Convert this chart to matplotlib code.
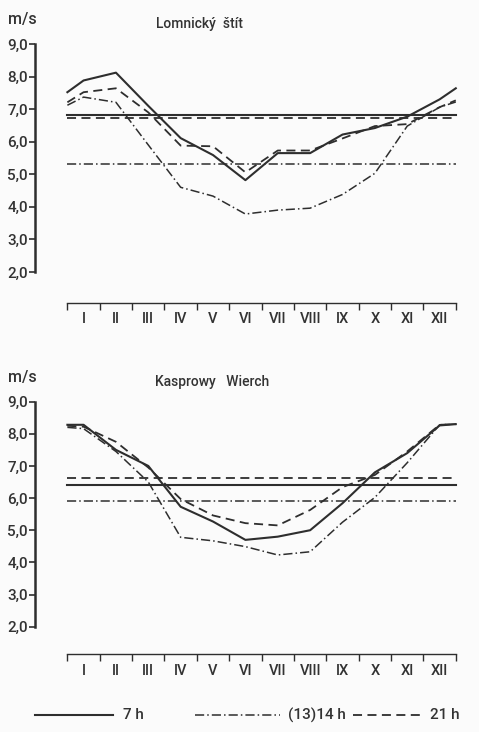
import numpy as np
import matplotlib
matplotlib.use("Agg")
import matplotlib.pyplot as plt
from matplotlib.lines import Line2D
from matplotlib.ticker import FixedLocator, FuncFormatter

plt.rcParams['font.family'] = ['Roboto', 'DejaVu Sans']
plt.rcParams['font.weight'] = 'medium'

# month labels, positions: 0 = left edge, 0.5..11.5 = months, 12 = right edge
months = ["I", "II", "III", "IV", "V", "VI", "VII", "VIII", "IX", "X", "XI", "XII"]
xpos = np.concatenate(([0.0], np.arange(12) + 0.5, [12.0]))

# Lomnický štít (m/s): edge, I..XII, edge
lom_7h = [7.52, 7.88, 8.12, 7.10, 6.11, 5.59, 4.82, 5.65, 5.65, 6.22, 6.42, 6.77, 7.30, 7.64]
lom_14h = [7.12, 7.37, 7.21, 5.90, 4.60, 4.33, 3.78, 3.90, 3.96, 4.38, 5.03, 6.48, 7.06, 7.22]
lom_21h = [7.21, 7.52, 7.64, 6.90, 5.88, 5.86, 5.06, 5.73, 5.73, 6.10, 6.48, 6.54, 7.06, 7.27]
lom_mean = {"7h": 6.82, "14h": 5.31, "21h": 6.72}

# Kasprowy Wierch (m/s)
kas_7h = [8.28, 8.28, 7.50, 7.00, 5.73, 5.27, 4.70, 4.80, 5.00, 5.84, 6.80, 7.40, 8.26, 8.30]
kas_14h = [8.20, 8.16, 7.45, 6.50, 4.78, 4.67, 4.49, 4.23, 4.33, 5.25, 6.02, 7.10, 8.28, 8.30]
kas_21h = [8.25, 8.22, 7.75, 6.95, 5.97, 5.46, 5.22, 5.15, 5.63, 6.34, 6.72, 7.45, 8.28, 8.30]
kas_mean = {"7h": 6.41, "14h": 5.91, "21h": 6.62}

ink = "#2e2e2e"
txt = "#333333"
styles = {
    "7h": dict(ls="-", lw=1.5),
    "14h": dict(ls=(0, (6, 2, 1, 2)), lw=1.1),
    "21h": dict(ls=(0, (5, 3)), lw=1.3),
}

fig = plt.figure(figsize=(4.79, 7.32), dpi=100, facecolor="#fbfbfb")


def panel(rect, series, means, title, title_x, offset_pt):
    ax = fig.add_axes(rect)
    ax.set_facecolor("none")
    for key, vals in series.items():
        ax.plot(xpos, vals, color=ink, **styles[key])
        ax.plot([0, 12], [means[key], means[key]], color=ink, **styles[key])
    ax.set_xlim(-1.0, 12.06)
    ax.set_ylim(2, 9)
    for s in ("top", "right"):
        ax.spines[s].set_visible(False)
    ax.spines["left"].set_bounds(2, 9)
    ax.spines["left"].set_linewidth(1.8)
    ax.spines["left"].set_color(ink)
    ax.spines["bottom"].set_position(("outward", offset_pt))
    ax.spines["bottom"].set_bounds(0, 12)
    ax.spines["bottom"].set_linewidth(1.0)
    ax.spines["bottom"].set_color(ink)
    ax.set_yticks(np.arange(2, 10))
    ax.yaxis.set_major_formatter(FuncFormatter(lambda v, p: f"{v:.1f}".replace(".", ",")))
    ax.tick_params(axis="y", length=4, width=1.2, color=ink, labelsize=11, labelcolor=txt, pad=1)
    ax.xaxis.set_major_locator(FixedLocator(np.arange(13)))
    ax.xaxis.set_minor_locator(FixedLocator(np.arange(12) + 0.5))
    ax.set_xticklabels([])
    ax.set_xticklabels(months, minor=True)
    ax.tick_params(axis="x", which="major", length=5, width=1.0, color=ink, direction="out")
    ax.tick_params(axis="x", which="minor", length=0, labelsize=10.5, labelcolor=txt, pad=7)
    ax.text(title_x, 1.055, title, transform=ax.transAxes, ha="center", va="bottom",
            fontsize=10, color=txt)
    ax.text(-0.065, 1.075, "m/s", transform=ax.transAxes, ha="left", va="bottom",
            fontsize=11.5, color=txt)
    return ax


panel([0.0731, 0.6284, 0.8825, 0.3115],
      {"7h": lom_7h, "14h": lom_14h, "21h": lom_21h}, lom_mean, "Lomnický  štít", 0.39, 22)
panel([0.0731, 0.1439, 0.8825, 0.3074],
      {"7h": kas_7h, "14h": kas_14h, "21h": kas_21h}, kas_mean, "Kasprowy   Wierch", 0.418, 20)

# legend along the bottom
ly = 1 - 715 / 732
legend_items = [((35, 113), "7h", "7 h", 123), ((195, 280), "14h", "(13)14 h", 288),
                ((353, 422), "21h", "21 h", 430)]
for (x0, x1), key, label, tx in legend_items:
    fig.add_artist(Line2D([x0 / 479, x1 / 479], [ly, ly], transform=fig.transFigure,
                          color=ink, **styles[key]))
    fig.text(tx / 479, ly, label, ha="left", va="center", fontsize=11, color=txt)

fig.savefig("out.png", dpi=100, facecolor=fig.get_facecolor())
